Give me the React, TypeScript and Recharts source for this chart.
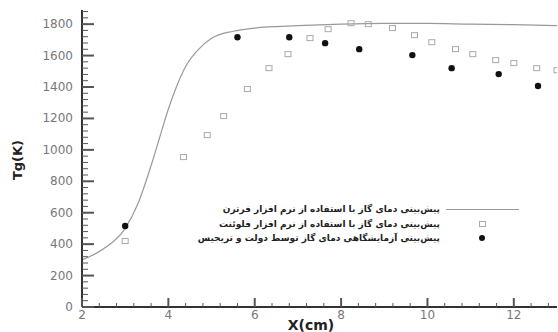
import {
  ComposedChart,
  Line,
  Scatter,
  XAxis,
  YAxis,
} from "recharts";

// فرترن curve
const lineX = [2, 2.5, 3, 3.3, 3.6, 3.8, 4.0, 4.2, 4.4, 4.7, 5.0, 5.5, 6, 7, 8, 9, 10, 11, 12, 13];
const lineY = [300, 370, 500, 660, 900, 1080, 1260, 1410, 1530, 1640, 1710, 1755, 1775, 1790, 1800, 1805, 1805, 1800, 1797, 1790];

// فلوئنت (open squares)
const fluentX = [3.0, 4.35, 4.9, 5.28, 5.83, 6.33, 6.77, 7.28, 7.7, 8.23, 8.63, 9.19, 9.7, 10.1, 10.65, 11.05, 11.58, 12.0, 12.53, 13.0];
const fluentY = [420, 954, 1094, 1215, 1387, 1520, 1609, 1711, 1768, 1806, 1800, 1775, 1730, 1685, 1641, 1609, 1571, 1552, 1520, 1507];

// experiment (filled dots)
const expX = [3.0, 5.6, 6.8, 7.63, 8.42, 9.65, 10.56, 11.65, 12.56];
const expY = [515, 1717, 1717, 1679, 1641, 1603, 1520, 1482, 1406];

const legendLabels = [
  "پیش‌بینی دمای گاز با استفاده از نرم افزار فرترن",
  "پیش‌بینی دمای گاز با استفاده از نرم افزار فلوئنت",
  "پیش‌بینی آزمایشگاهی دمای گاز توسط دولت و تریجیس",
];

const xTicks: number[] = [];
for (let i = 0; i <= 27; i++) xTicks.push(Math.round((2 + i * 0.4) * 10) / 10);
const yTicks: number[] = [];
for (let i = 0; i <= 47; i++) yTicks.push(i * 40);

const lineData = lineX.map((x, i) => ({ x, y: lineY[i] }));
const fluentData = fluentX.map((x, i) => ({ x, y: fluentY[i] }));
const expData = expX.map((x, i) => ({ x, y: expY[i] }));

const FONT = "'DejaVu Sans', sans-serif";

const YTick = (props: any) => {
  const { x, y, payload } = props;
  const v = payload.value;
  const major = v % 200 === 0;
  return (
    <g>
      <line x1={x} x2={x + (major ? 12 : 6)} y1={y} y2={y} stroke="#555" strokeWidth={major ? 2 : 1} />
      {major && (
        <text x={x - 9} y={y + 4} textAnchor="end" fontSize={12} fill="#777" fontFamily={FONT}>
          {v}
        </text>
      )}
    </g>
  );
};

const XTick = (props: any) => {
  const { x, y, payload } = props;
  const v = payload.value;
  const major = Math.abs(v / 2 - Math.round(v / 2)) < 0.01;
  return (
    <g>
      <line x1={x} x2={x} y1={y} y2={y - (major ? 9 : 4)} stroke="#555" strokeWidth={major ? 2 : 1} />
      {major && (
        <text x={x} y={y + 12} textAnchor="middle" fontSize={12} fill="#777" fontFamily={FONT}>
          {v}
        </text>
      )}
    </g>
  );
};

const Square = (props: any) => {
  const { cx, cy } = props;
  return <rect x={cx - 3} y={cy - 2.5} width={6} height={5} fill="none" stroke="#aaa" strokeWidth={1} />;
};

const Dot = (props: any) => {
  const { cx, cy } = props;
  return <circle cx={cx} cy={cy} r={3.2} fill="#111" />;
};

export default function App() {
  return (
    <div style={{ position: "absolute", left: 0, top: 0, width: 558, height: 332, background: "#fff", overflow: "hidden" }}>
      <ComposedChart width={558} height={332} margin={{ top: 10, right: 1, left: 0, bottom: 0 }}>
        <XAxis
          type="number"
          dataKey="x"
          domain={[2, 13]}
          ticks={xTicks}
          interval={0}
          allowDataOverflow
          height={25}
          tickSize={0}
          tickMargin={0}
          tick={<XTick />}
          axisLine={{ stroke: "#333", strokeWidth: 2 }}
        />
        <YAxis
          type="number"
          dataKey="y"
          domain={[0, 1890]}
          ticks={yTicks}
          interval={0}
          allowDataOverflow
          width={82}
          tickSize={0}
          tickMargin={0}
          tick={<YTick />}
          axisLine={{ stroke: "#333", strokeWidth: 2 }}
        />
        <Line
          data={lineData}
          dataKey="y"
          type="monotone"
          stroke="#999"
          strokeWidth={1.2}
          dot={false}
          isAnimationActive={false}
        />
        <Scatter data={fluentData} dataKey="y" shape={<Square />} isAnimationActive={false} />
        <Scatter data={expData} dataKey="y" shape={<Dot />} isAnimationActive={false} />
      </ComposedChart>
      <div
        style={{
          position: "absolute",
          left: 180,
          top: 202,
          fontFamily: FONT,
          fontSize: 9,
          color: "#222",
          fontWeight: "bold",
        }}
      >
        {legendLabels.map((t, i) => (
          <div key={i} style={{ display: "flex", alignItems: "center", height: 14.5 }}>
            <span style={{ width: 260, textAlign: "right", direction: "rtl", whiteSpace: "nowrap" }}>{t}</span>
            <span style={{ width: 78, display: "flex", justifyContent: "center", marginLeft: 3 }}>
              {i === 0 && <span style={{ width: 73, height: 1, background: "#999", display: "block" }} />}
              {i === 1 && <span style={{ width: 5, height: 4, border: "1px solid #aaa", display: "block" }} />}
              {i === 2 && <span style={{ width: 6, height: 6, borderRadius: 3, background: "#111", display: "block" }} />}
            </span>
          </div>
        ))}
      </div>
      <div
        style={{
          position: "absolute",
          left: 17,
          top: 160,
          transform: "translate(-50%, -50%) rotate(-90deg)",
          fontFamily: FONT,
          fontWeight: "bold",
          fontSize: 13,
          color: "#222",
          whiteSpace: "nowrap",
        }}
      >
        Tg(K)
      </div>
      <div
        style={{
          position: "absolute",
          left: 311,
          top: 325,
          transform: "translate(-50%, -50%)",
          fontFamily: FONT,
          fontWeight: "bold",
          fontSize: 14,
          lineHeight: "14px",
          color: "#222",
          whiteSpace: "nowrap",
        }}
      >
        X(cm)
      </div>
    </div>
  );
}
